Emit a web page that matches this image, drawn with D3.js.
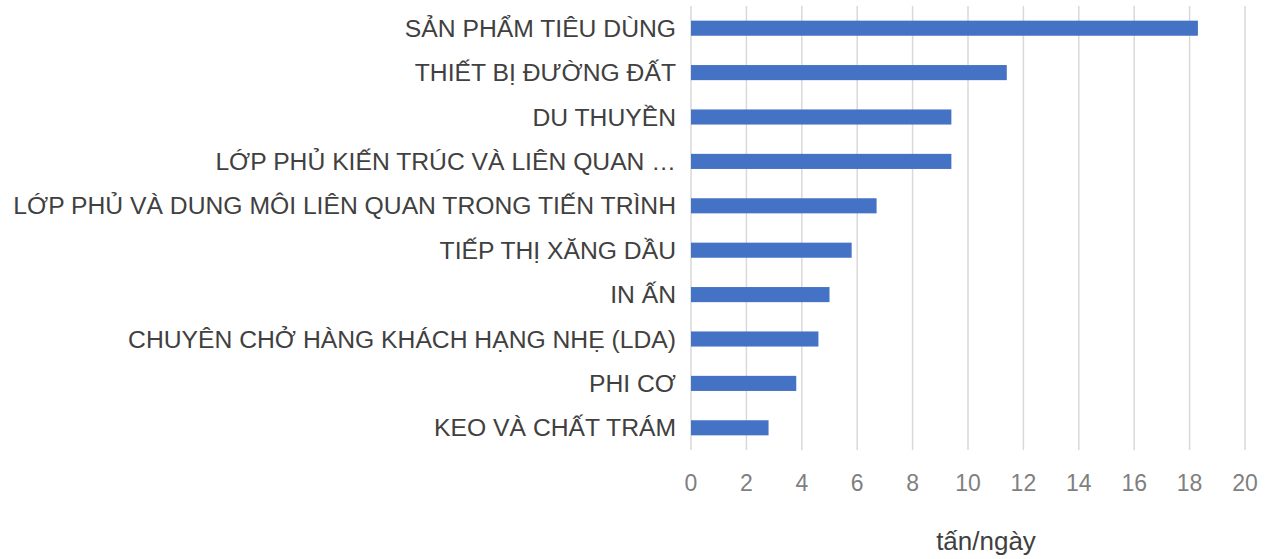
<!DOCTYPE html>
<html><head><meta charset="utf-8">
<script src="https://cdn.jsdelivr.net/npm/d3@7"></script>
<style>body{margin:0;background:#fff}svg{display:block}</style>
</head><body>
<svg id="c" width="1277" height="559"></svg>
<script>
const categories = ["SẢN PHẨM TIÊU DÙNG","THIẾT BỊ ĐƯỜNG ĐẤT","DU THUYỀN","LỚP PHỦ KIẾN TRÚC VÀ LIÊN QUAN …","LỚP PHỦ VÀ DUNG MÔI LIÊN QUAN TRONG TIẾN TRÌNH","TIẾP THỊ XĂNG DẦU","IN ẤN","CHUYÊN CHỞ HÀNG KHÁCH HẠNG NHẸ (LDA)","PHI CƠ","KEO VÀ CHẤT TRÁM"];
const values = [18.3, 11.4, 9.4, 9.4, 6.7, 5.8, 5.0, 4.6, 3.8, 2.8];
const xTicks = [0,2,4,6,8,10,12,14,16,18,20];
const axisTitle = "tấn/ngày";

(function(){
const svg = d3.select("#c");
const mL = 691, mR = 1245, mT = 6, mB = 450;
const x = d3.scaleLinear().domain([0,20]).range([mL,mR]);
const y = d3.scaleBand().domain(categories).range([mT,mB]).paddingInner(0.66).paddingOuter(0.33);

svg.append("g").selectAll("line").data(xTicks).join("line")
  .attr("x1",d=>x(d)).attr("x2",d=>x(d)).attr("y1",mT).attr("y2",mB)
  .attr("stroke","#d9d9d9").attr("stroke-width",1.5);

svg.append("g").selectAll("rect").data(values).join("rect")
  .attr("x",x(0)).attr("y",(d,i)=>y(categories[i]))
  .attr("width",d=>x(d)-x(0)).attr("height",y.bandwidth())
  .attr("fill","#4472C4");

svg.append("g").selectAll("text").data(categories).join("text")
  .attr("x",676).attr("y",d=>y(d)+y.bandwidth()/2).attr("dy","0.35em")
  .attr("text-anchor","end").attr("font-family","Liberation Sans, Arial, sans-serif")
  .attr("font-size",24.7).attr("fill","#404040").text(d=>d);

svg.append("g").selectAll("text").data(xTicks).join("text")
  .attr("x",d=>x(d)).attr("y",483).attr("dy","0.35em")
  .attr("text-anchor","middle").attr("font-family","Liberation Sans, sans-serif")
  .attr("font-size",23).attr("fill","#7f7f7f").text(d=>d);

svg.append("text").attr("x",986).attr("y",541).attr("dy","0.35em")
  .attr("text-anchor","middle").attr("font-family","Liberation Sans, Arial, sans-serif")
  .attr("font-size",26).attr("fill","#404040").text(axisTitle);
})();
</script>
</body></html>
